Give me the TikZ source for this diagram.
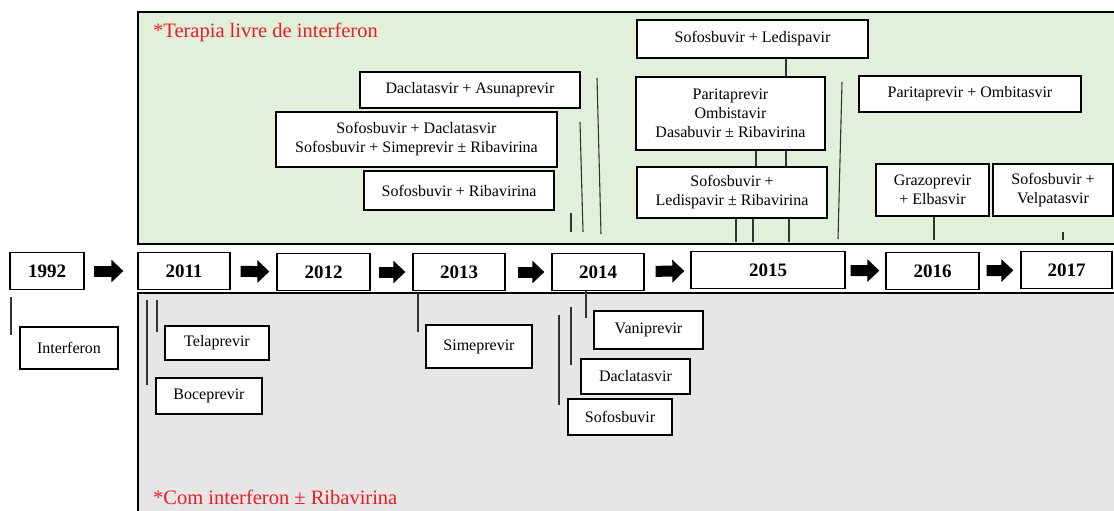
\documentclass[tikz,border=0pt]{standalone}
\usepackage{fontspec}
\setmainfont{Liberation Serif}
\usetikzlibrary{arrows.meta}
\definecolor{livreverde}{RGB}{226,239,218}
\definecolor{comcinza}{RGB}{231,230,230}
\definecolor{notared}{RGB}{235,28,36}

\begin{document}
\begin{tikzpicture}[x=1pt,y=-1pt,
		droga/.style={draw,fill=white,line width=1.3pt,inner sep=0pt,align=center,font=\fontsize{16}{19}\selectfont},
		ano/.style={draw,fill=white,line width=1.3pt,inner sep=0pt,minimum height=37pt,font=\fontsize{19}{22}\selectfont\bfseries},
		seta/.style={line width=11pt,-{Triangle[length=12pt,width=22pt]},shorten <=10pt,shorten >=7pt},
		haste/.style={line width=1.1pt,draw=black!80}]
		\useasboundingbox (0,0) rectangle (1114,511);

		\filldraw[fill=livreverde,line width=1.3pt] (138,12) rectangle (1130,244);
		\filldraw[fill=comcinza,line width=1.3pt] (138,293) rectangle (1130,530);

		\node[anchor=west,inner sep=0pt,text=notared,font=\fontsize{20.5}{24}\selectfont] (livre) at (153,32) {*Terapia livre de interferon};
		\node[anchor=west,inner sep=0pt,text=notared,font=\fontsize{20.5}{24}\selectfont] (comint) at (153,497) {*Com interferon ± Ribavirina};

		\node[ano,minimum width=74pt] (y1992) at (47,271) {1992};
		\node[ano,minimum width=92pt] (y2011) at (184,271) {2011};
		\node[ano,minimum width=93pt] (y2012) at (323.5,272) {2012};
		\node[ano,minimum width=92pt] (y2013) at (459,272) {2013};
		\node[ano,minimum width=92pt] (y2014) at (598,272) {2014};
		\node[ano,minimum width=154pt] (y2015) at (768,270) {2015};
		\node[ano,minimum width=93pt] (y2016) at (932.5,271) {2016};
		\node[ano,minimum width=91pt] (y2017) at (1066.5,270) {2017};

		\draw[seta,shorten <=9pt,shorten >=14pt] (y1992) -- (y2011);
		\draw[seta] (y2011) -- (y2012);
		\draw[seta,shorten <=8pt] (y2012) -- (y2013);
		\draw[seta,shorten <=12pt] (y2013) -- (y2014);
		\draw[seta,shorten <=11pt,shorten >=6pt] (y2014) -- (y2015);
		\draw[seta,shorten <=5pt,shorten >=6pt] (y2015) -- (y2016);
		\draw[seta,shorten <=7pt] (y2016) -- (y2017);

		% com interferon
		\node[droga,minimum width=98pt,minimum height=42pt] (interf) at (69,348) {Interferon};
		\node[droga,minimum width=104pt,minimum height=34pt] (tela) at (217,343) {Telaprevir};
		\node[droga,minimum width=106pt,minimum height=36pt] (boce) at (209,396) {Boceprevir};
		\node[droga,minimum width=106pt,minimum height=43pt] (sime) at (479,346.5) {Simeprevir};
		\node[droga,minimum width=109pt,minimum height=38pt] (vani) at (648.5,330) {Vaniprevir};
		\node[droga,minimum width=109pt,minimum height=35pt] (dacla) at (635.5,376.5) {Daclatasvir};
		\node[droga,minimum width=104pt,minimum height=36pt] (sofo) at (620,417) {Sofosbuvir};

		\draw[haste] (11,297) -- (11,335);
		\draw[haste] (147,300) -- (147,385);
		\draw[haste] (157,300) -- (157,332);
		\draw[haste] (418,293) -- (418,332);
		\draw[haste] (y2014.south -| 586,0) -- (586,318);
		\draw[haste] (571,307) -- (571,365);
		\draw[haste] (559,315) -- (559,405);

		% livre de interferon
		\node[droga,minimum width=220pt,minimum height=36pt] (dasu) at (470,90) {Daclatasvir + Asunaprevir};
		\node[droga,minimum width=281pt,minimum height=55pt] (sofdac) at (416.5,139.5) {Sofosbuvir + Daclatasvir\\Sofosbuvir + Simeprevir ± Ribavirina};
		\node[droga,minimum width=190pt,minimum height=39pt] (sofrib) at (459,190.5) {Sofosbuvir + Ribavirina};
		\node[droga,minimum width=231pt,minimum height=38pt] (sofled) at (752.5,39) {Sofosbuvir + Ledispavir};
		\node[droga,minimum width=189pt,minimum height=73pt] (pod) at (730.5,113.5) {Paritaprevir\\Ombistavir\\Dasabuvir ± Ribavirina};
		\node[droga,minimum width=190pt,minimum height=51pt] (sofledrib) at (732,192.5) {Sofosbuvir +\\Ledispavir ± Ribavirina};
		\node[droga,minimum width=222pt,minimum height=36pt] (parom) at (970,94) {Paritaprevir + Ombitasvir};
		\node[droga,minimum width=113pt,minimum height=52pt] (grazo) at (932.5,190) {Grazoprevir\\+ Elbasvir};
		\node[droga,minimum width=120pt,minimum height=52pt] (velpa) at (1053,190) {Sofosbuvir +\\Velpatasvir};

		\draw[haste] (sofled.south -| 786,0) -- (pod.north -| 786,0);
		\draw[haste] (pod.south -| 756,0) -- (sofledrib.north -| 756,0);
		\draw[haste] (pod.south -| 786,0) -- (sofledrib.north -| 786,0);
		\draw[haste] (sofledrib.south -| 736,0) -- (736,242);
		\draw[haste] (sofledrib.south -| 753,0) -- (753,242);
		\draw[haste] (sofledrib.south -| 789,0) -- (789,242);
		\draw[haste] (grazo.south -| 934,0) -- (934,240);
		\draw[haste] (1063,232) -- (1063,240);
		\draw[haste] (571,213) -- (571,232);
		\draw[haste] (580,122) -- (583,232);
		\draw[haste] (597,78) -- (601,234);
		\draw[haste] (842,82) -- (838,239);
	\end{tikzpicture}
\end{document}
